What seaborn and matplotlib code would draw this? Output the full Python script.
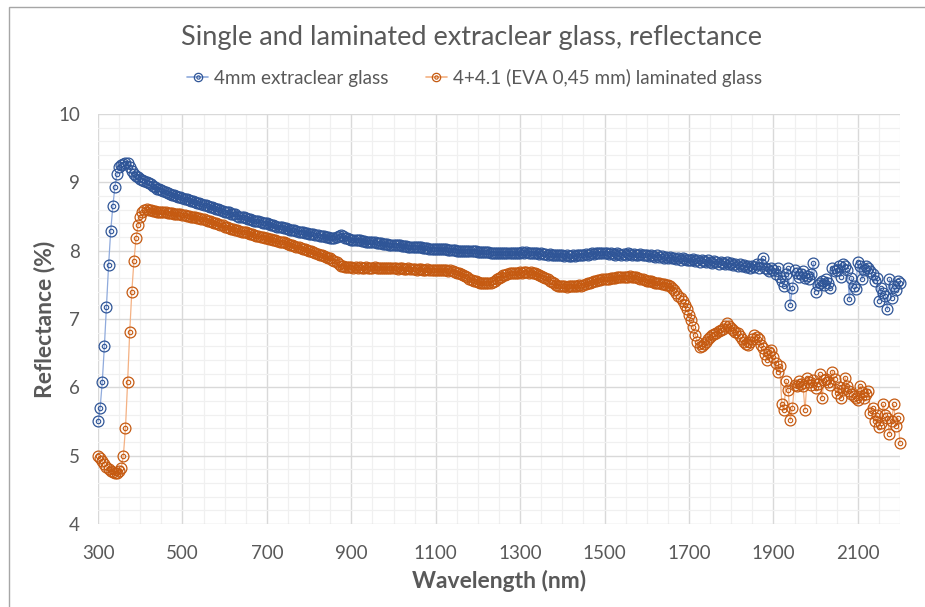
import matplotlib
matplotlib.use("Agg")
import matplotlib.pyplot as plt
from matplotlib.lines import Line2D
from matplotlib.patches import Rectangle
import seaborn as sns
import pandas as pd

# Spectral reflectance, sampled every 5 nm from 300 to 2200 nm
wavelength_nm = list(range(300, 2201, 5))

single_4mm = [
    5.50, 5.70, 6.08, 6.60, 7.18, 7.79, 8.29, 8.65, 8.94, 9.12, 9.23, 9.26, 9.27, 9.29, 9.28, 9.22, 9.16, 9.13, 9.10, 9.08,
    9.05, 9.04, 9.02, 9.01, 8.99, 8.97, 8.95, 8.93, 8.91, 8.90, 8.89, 8.87, 8.86, 8.85, 8.83, 8.82, 8.81, 8.80, 8.79, 8.78,
    8.77, 8.76, 8.76, 8.74, 8.73, 8.73, 8.71, 8.70, 8.70, 8.68, 8.67, 8.67, 8.65, 8.64, 8.64, 8.62, 8.61, 8.61, 8.59, 8.58,
    8.57, 8.56, 8.56, 8.54, 8.53, 8.53, 8.51, 8.50, 8.50, 8.49, 8.48, 8.47, 8.47, 8.45, 8.44, 8.44, 8.43, 8.42, 8.41, 8.41,
    8.40, 8.39, 8.38, 8.38, 8.36, 8.35, 8.35, 8.34, 8.33, 8.33, 8.32, 8.31, 8.30, 8.30, 8.29, 8.28, 8.28, 8.27, 8.26, 8.26,
    8.25, 8.25, 8.24, 8.23, 8.23, 8.22, 8.21, 8.21, 8.20, 8.20, 8.19, 8.19, 8.18, 8.20, 8.22, 8.23, 8.21, 8.19, 8.18, 8.17,
    8.16, 8.16, 8.15, 8.15, 8.15, 8.14, 8.14, 8.13, 8.13, 8.13, 8.12, 8.12, 8.11, 8.11, 8.11, 8.10, 8.10, 8.10, 8.09, 8.09,
    8.09, 8.08, 8.08, 8.08, 8.07, 8.07, 8.07, 8.06, 8.06, 8.06, 8.06, 8.05, 8.05, 8.05, 8.04, 8.04, 8.04, 8.03, 8.03, 8.03,
    8.03, 8.03, 8.02, 8.02, 8.02, 8.02, 8.01, 8.01, 8.01, 8.01, 8.00, 8.00, 8.00, 8.00, 8.00, 7.99, 7.99, 7.99, 7.99, 7.99,
    7.98, 7.98, 7.98, 7.98, 7.98, 7.98, 7.97, 7.97, 7.97, 7.97, 7.97, 7.97, 7.97, 7.97, 7.96, 7.96, 7.96, 7.96, 7.96, 7.96,
    7.97, 7.98, 7.97, 7.98, 7.97, 7.96, 7.97, 7.96, 7.96, 7.95, 7.96, 7.95, 7.95, 7.94, 7.95, 7.94, 7.94, 7.93, 7.94, 7.93,
    7.93, 7.92, 7.93, 7.92, 7.92, 7.93, 7.92, 7.93, 7.94, 7.93, 7.94, 7.95, 7.94, 7.95, 7.96, 7.95, 7.96, 7.97, 7.96, 7.97,
    7.97, 7.96, 7.95, 7.96, 7.95, 7.94, 7.96, 7.95, 7.94, 7.95, 7.94, 7.96, 7.95, 7.93, 7.95, 7.94, 7.93, 7.95, 7.93, 7.94,
    7.93, 7.92, 7.94, 7.92, 7.91, 7.93, 7.91, 7.92, 7.90, 7.91, 7.89, 7.91, 7.89, 7.90, 7.88, 7.89, 7.87, 7.89, 7.88, 7.86,
    7.87, 7.86, 7.88, 7.85, 7.87, 7.84, 7.86, 7.85, 7.83, 7.86, 7.84, 7.82, 7.85, 7.83, 7.81, 7.84, 7.82, 7.80, 7.83, 7.81,
    7.82, 7.79, 7.81, 7.78, 7.80, 7.77, 7.79, 7.76, 7.78, 7.75, 7.78, 7.76, 7.80, 7.74, 7.80, 7.89, 7.75, 7.73, 7.70, 7.74,
    7.72, 7.66, 7.74, 7.62, 7.55, 7.48, 7.66, 7.74, 7.21, 7.45, 7.72, 7.68, 7.62, 7.66, 7.70, 7.60, 7.63, 7.58, 7.66, 7.82,
    7.40, 7.50, 7.52, 7.56, 7.50, 7.58, 7.52, 7.45, 7.74, 7.70, 7.72, 7.77, 7.62, 7.80, 7.77, 7.72, 7.29, 7.60, 7.48, 7.44,
    7.83, 7.78, 7.58, 7.72, 7.77, 7.74, 7.70, 7.66, 7.55, 7.60, 7.27, 7.45, 7.38, 7.34, 7.14, 7.58, 7.30, 7.48, 7.42, 7.55,
    7.52,
]

laminated_eva = [
    5.00, 4.96, 4.92, 4.87, 4.83, 4.80, 4.78, 4.76, 4.75, 4.74, 4.77, 4.82, 5.00, 5.41, 6.07, 6.81, 7.40, 7.85, 8.18, 8.38,
    8.50, 8.56, 8.60, 8.61, 8.60, 8.59, 8.58, 8.58, 8.57, 8.57, 8.56, 8.56, 8.56, 8.55, 8.55, 8.55, 8.54, 8.54, 8.53, 8.53,
    8.52, 8.52, 8.51, 8.51, 8.50, 8.50, 8.49, 8.48, 8.48, 8.47, 8.46, 8.45, 8.44, 8.43, 8.42, 8.41, 8.40, 8.39, 8.38, 8.37,
    8.35, 8.34, 8.33, 8.32, 8.32, 8.31, 8.30, 8.29, 8.28, 8.28, 8.27, 8.26, 8.25, 8.24, 8.23, 8.22, 8.21, 8.20, 8.20, 8.19,
    8.18, 8.17, 8.17, 8.16, 8.15, 8.14, 8.13, 8.13, 8.12, 8.11, 8.10, 8.09, 8.08, 8.07, 8.06, 8.05, 8.04, 8.03, 8.02, 8.01,
    8.00, 7.99, 7.98, 7.96, 7.95, 7.94, 7.93, 7.92, 7.91, 7.90, 7.89, 7.87, 7.85, 7.83, 7.80, 7.78, 7.77, 7.76, 7.76, 7.76,
    7.76, 7.75, 7.76, 7.75, 7.76, 7.75, 7.75, 7.76, 7.75, 7.75, 7.75, 7.76, 7.75, 7.74, 7.75, 7.75, 7.74, 7.74, 7.75, 7.74,
    7.74, 7.74, 7.73, 7.74, 7.74, 7.73, 7.73, 7.74, 7.73, 7.73, 7.73, 7.72, 7.73, 7.73, 7.72, 7.72, 7.73, 7.72, 7.72, 7.72,
    7.72, 7.71, 7.72, 7.71, 7.71, 7.71, 7.70, 7.71, 7.70, 7.69, 7.68, 7.67, 7.66, 7.64, 7.63, 7.61, 7.59, 7.57, 7.56, 7.55,
    7.54, 7.53, 7.53, 7.52, 7.52, 7.52, 7.53, 7.54, 7.56, 7.58, 7.60, 7.62, 7.64, 7.65, 7.66, 7.67, 7.67, 7.68, 7.68, 7.68,
    7.69, 7.68, 7.69, 7.69, 7.68, 7.69, 7.68, 7.67, 7.66, 7.65, 7.63, 7.62, 7.60, 7.58, 7.56, 7.54, 7.52, 7.50, 7.49, 7.48,
    7.48, 7.48, 7.47, 7.48, 7.48, 7.49, 7.48, 7.49, 7.50, 7.49, 7.50, 7.51, 7.52, 7.53, 7.54, 7.55, 7.56, 7.57, 7.57, 7.58,
    7.58, 7.59, 7.59, 7.60, 7.60, 7.60, 7.61, 7.61, 7.62, 7.61, 7.62, 7.62, 7.63, 7.62, 7.61, 7.62, 7.60, 7.59, 7.58, 7.57,
    7.56, 7.55, 7.55, 7.54, 7.53, 7.53, 7.52, 7.51, 7.51, 7.50, 7.50, 7.48, 7.45, 7.42, 7.38, 7.34, 7.30, 7.26, 7.20, 7.14,
    7.06, 6.99, 6.88, 6.76, 6.66, 6.59, 6.60, 6.63, 6.66, 6.70, 6.73, 6.76, 6.78, 6.80, 6.82, 6.84, 6.86, 6.90, 6.94, 6.90,
    6.87, 6.84, 6.81, 6.79, 6.75, 6.70, 6.67, 6.64, 6.62, 6.66, 6.71, 6.77, 6.74, 6.70, 6.62, 6.58, 6.48, 6.40, 6.52, 6.55,
    6.45, 6.36, 6.23, 6.31, 5.75, 5.67, 6.09, 5.96, 5.52, 5.70, 6.04, 6.02, 6.09, 6.05, 6.02, 5.67, 6.14, 6.08, 6.04, 6.10,
    5.99, 6.05, 6.19, 5.84, 6.10, 6.12, 6.07, 6.03, 6.23, 6.12, 5.92, 6.00, 5.84, 5.96, 6.14, 6.02, 5.95, 5.90, 5.87, 5.85,
    5.82, 6.02, 5.93, 5.84, 5.90, 5.95, 5.62, 5.70, 5.50, 5.60, 5.42, 5.48, 5.75, 5.60, 5.55, 5.32, 5.50, 5.75, 5.43, 5.55,
    5.18,
]

series_labels = ["4mm extraclear glass", "4+4.1 (EVA 0,45 mm) laminated glass"]
x_ticks = list(range(300, 2101, 200))
y_ticks = [4, 5, 6, 7, 8, 9, 10]

df = pd.DataFrame({
    "wavelength": wavelength_nm * 2,
    "reflectance": single_4mm + laminated_eva,
    "series": [series_labels[0]] * len(wavelength_nm) + [series_labels[1]] * len(wavelength_nm),
})

sns.set_theme(style="white")
plt.rcParams["font.family"] = ["Lato", "DejaVu Sans"]
text_grey = "#595959"

# marker edge (dark) and connecting line (light) per series
dark = {series_labels[0]: "#2F5597", series_labels[1]: "#C55A11"}
light = {series_labels[0]: "#8FAADC", series_labels[1]: "#F4B183"}

fig = plt.figure(figsize=(9.25, 6.07), dpi=100)
ax = fig.add_axes([0.106, 0.137, 0.867, 0.675])

handles = []
for name in series_labels:
    sub = df[df["series"] == name]
    sns.lineplot(data=sub, x="wavelength", y="reflectance", ax=ax,
                 color=light[name], linewidth=0.9, marker="o", markersize=7.8,
                 markerfacecolor="none", markeredgecolor=dark[name],
                 markeredgewidth=0.9, clip_on=False, zorder=3)
    ax.plot(sub["wavelength"], sub["reflectance"], linestyle="none", marker="o",
            markersize=3.2, markerfacecolor="none", markeredgecolor=dark[name],
            markeredgewidth=0.8, clip_on=False, zorder=4)
    outer = Line2D([], [], color=light[name], linewidth=1.2, marker="o", markersize=6.0,
                   markerfacecolor="none", markeredgecolor=dark[name], markeredgewidth=0.9)
    inner = Line2D([], [], linestyle="none", marker="o", markersize=2.4,
                   markerfacecolor="none", markeredgecolor=dark[name], markeredgewidth=0.8)
    handles.append((outer, inner))

ax.set_xlim(300, 2200)
ax.set_ylim(4, 10)
ax.set_xticks(x_ticks)
ax.set_xticks(list(range(300, 2201, 50)), minor=True)
ax.set_yticks(y_ticks)
ax.set_yticks([4 + 0.2 * i for i in range(31)], minor=True)
ax.set_xticklabels([str(t) for t in x_ticks])
ax.set_yticklabels([str(t) for t in y_ticks])
ax.tick_params(axis="both", which="both", length=0, labelsize=13.5, labelcolor=text_grey)
ax.tick_params(axis="x", pad=15)
ax.tick_params(axis="y", pad=13)

ax.set_axisbelow(True)
ax.grid(which="major", color="#d9d9d9", linewidth=1.0)
ax.grid(which="minor", color="#f0f0f0", linewidth=0.9)
for s in ax.spines.values():
    s.set_visible(False)

ax.set_xlabel("Wavelength (nm)", fontsize=16.5, fontweight="bold", color=text_grey, labelpad=6)
ax.set_ylabel("Reflectance (%)", fontsize=16.5, fontweight="bold", color=text_grey, labelpad=2)

fig.text(0.51, 1 - 37 / 607, "Single and laminated extraclear glass, reflectance",
         ha="center", va="center", fontsize=19.5, color=text_grey)

fig.legend(handles, series_labels, loc="center", bbox_to_anchor=(0.513, 1 - 78 / 607),
           ncol=2, frameon=False, fontsize=13.6, labelcolor=text_grey,
           handlelength=1.1, handletextpad=0.3, columnspacing=2.0)

# thin chart frame
fig.patches.append(Rectangle((9 / 925, -0.1), 1.2, 1 - 7 / 607 + 0.1,
                             transform=fig.transFigure, fill=False,
                             edgecolor="#a6a6a6", linewidth=1.0))

fig.savefig("out.png", dpi=100)
